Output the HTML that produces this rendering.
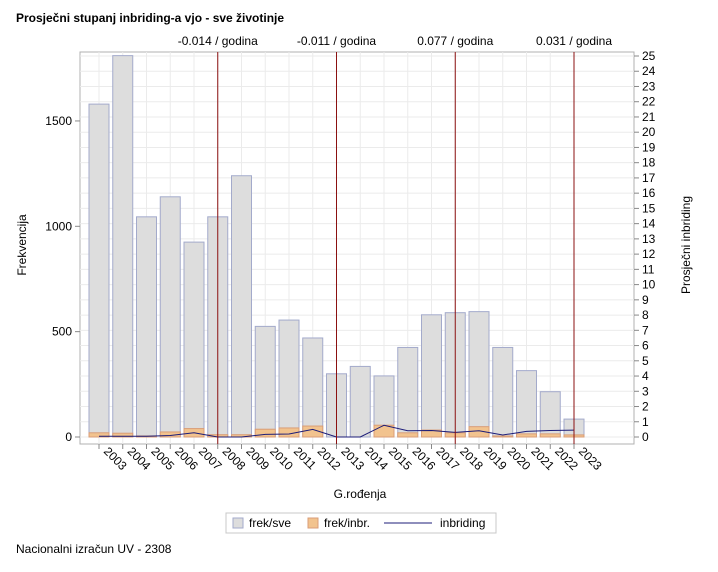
<!DOCTYPE html>
<html><head><meta charset="utf-8"><style>
body{margin:0;background:#fff;font-family:"Liberation Sans",sans-serif;}
svg text{font-family:"Liberation Sans",sans-serif;}
</style></head><body>
<svg width="718" height="567" xmlns="http://www.w3.org/2000/svg" id="chart">
<text x="16" y="22" font-size="12" font-weight="bold" fill="#000">Prosječni stupanj inbriding-a vjo - sve životinje</text>
<g id="g"></g>
<text x="16" y="553" font-size="12" fill="#000">Nacionalni izračun UV - 2308</text>
</svg>
<script>
const years=["2003","2004","2005","2006","2007","2008","2009","2010","2011","2012","2013","2014","2015","2016","2017","2018","2019","2020","2021","2022","2023"];
const frekSve=[1580,1810,1045,1140,925,1045,1240,525,555,470,300,335,290,425,580,590,595,425,315,215,85];
const frekInbr=[20,18,5,24,40,11,11,37,43,52,0,0,56,20,33,20,49,5,15,15,10];
const inbriding=[0.05,0.05,0.05,0.1,0.28,0,0,0.17,0.2,0.5,0,0,0.77,0.41,0.43,0.3,0.41,0.13,0.37,0.43,0.45];
const leftTicks=[0,500,1000,1500];
const rightTicks=[0,1,2,3,4,5,6,7,8,9,10,11,12,13,14,15,16,17,18,19,20,21,22,23,24,25];
const refYears=["2008","2013","2018","2023"];
const refLabels=["-0.014 / godina","-0.011 / godina","0.077 / godina","0.031 / godina"];

const NS="http://www.w3.org/2000/svg";
const g=document.getElementById('g');
const L=80,R=634,T=52,B=444;
const xs=i=>99+i*23.75;
const yl=v=>437-v*0.2107;
const yr=v=>437-v*15.24;
function el(t,a,p){const e=document.createElementNS(NS,t);for(const k in a)e.setAttribute(k,a[k]);(p||g).appendChild(e);return e;}

// frame/background
const frame=el('rect',{x:L,y:T,width:R-L,height:B-T,fill:'#fff',stroke:'#b0b0b0'});


// grid
rightTicks.forEach(v=>{const l=el('line',{x1:L,x2:R,y1:yr(v),y2:yr(v),stroke:'#ebebeb'});

});
years.forEach((y,i)=>{const l=el('line',{x1:xs(i),x2:xs(i),y1:T,y2:B,stroke:'#ebebeb'});

});
// bars
years.forEach((y,i)=>{
const b=el('rect',{x:xs(i)-10,y:yl(frekSve[i]),width:20,height:yl(0)-yl(frekSve[i]),fill:'#dddddd',stroke:'#a3aacb'});


if(frekInbr[i]>0){const o=el('rect',{x:xs(i)-10,y:yl(frekInbr[i]),width:20,height:yl(0)-yl(frekInbr[i]),fill:'#f2c38e',stroke:'#d99e78'});

}
});
// line
const ln=el('polyline',{points:inbriding.map((v,i)=>xs(i)+','+yr(v)).join(' '),fill:'none',stroke:'#1c1c78','stroke-width':1});


// reference lines
refYears.forEach((y,k)=>{const i=years.indexOf(y);
const r=el('line',{x1:xs(i),x2:xs(i),y1:T,y2:B,stroke:'#8b1111'});


const t=el('text',{x:xs(i),y:45,'font-size':12,'text-anchor':'middle',fill:'#000'});t.textContent=refLabels[k];

});
// left axis
leftTicks.forEach(v=>{el('line',{x1:L-5,x2:L,y1:yl(v),y2:yl(v),stroke:'#888'});
const t=el('text',{x:L-8,y:yl(v)+4,'font-size':12,'text-anchor':'end',fill:'#000'});t.textContent=v;

});
// right axis
rightTicks.forEach(v=>{el('line',{x1:R,x2:R+5,y1:yr(v),y2:yr(v),stroke:'#888'});
const t=el('text',{x:R+8,y:yr(v)+4,'font-size':12,fill:'#000'});t.textContent=v;

});
// x axis
years.forEach((y,i)=>{el('line',{x1:xs(i),x2:xs(i),y1:B,y2:B+5,stroke:'#888'});
const t=el('text',{x:xs(i)+5,y:B+10,'font-size':12,'text-anchor':'end',fill:'#000',transform:`rotate(45 ${xs(i)+5} ${B+10})`});
t.setAttribute('transform',`rotate(45 ${xs(i)+4} ${B+8})`);
t.setAttribute('x',xs(i)+4);t.setAttribute('y',B+8);
t.setAttribute('text-anchor','start');
t.textContent=y;

});
// axis titles
let t=el('text',{x:360,y:498,'font-size':12,'text-anchor':'middle',fill:'#000'});t.textContent='G.rođenja';


t=el('text',{x:26,y:245,'font-size':12,'text-anchor':'middle',fill:'#000',transform:'rotate(-90 26 245)'});t.textContent='Frekvencija';


t=el('text',{x:690,y:245,'font-size':12,'text-anchor':'middle',fill:'#000',transform:'rotate(-90 690 245)'});t.textContent='Prosječni inbriding';


// legend
const lg=el('rect',{x:226,y:513,width:270,height:20,fill:'#fff',stroke:'#c8c8c8'});


el('rect',{x:233,y:518,width:10,height:10,fill:'#dddddd',stroke:'#a3aacb'});
t=el('text',{x:249,y:527,'font-size':12,fill:'#000'});t.textContent='frek/sve';


el('rect',{x:308,y:518,width:10,height:10,fill:'#f2c38e',stroke:'#d99e78'});
t=el('text',{x:324,y:527,'font-size':12,fill:'#000'});t.textContent='frek/inbr.';


el('line',{x1:384,x2:432,y1:523,y2:523,stroke:'#1c1c78'});
t=el('text',{x:440,y:527,'font-size':12,fill:'#000'});t.textContent='inbriding';


</script>
</body></html>
